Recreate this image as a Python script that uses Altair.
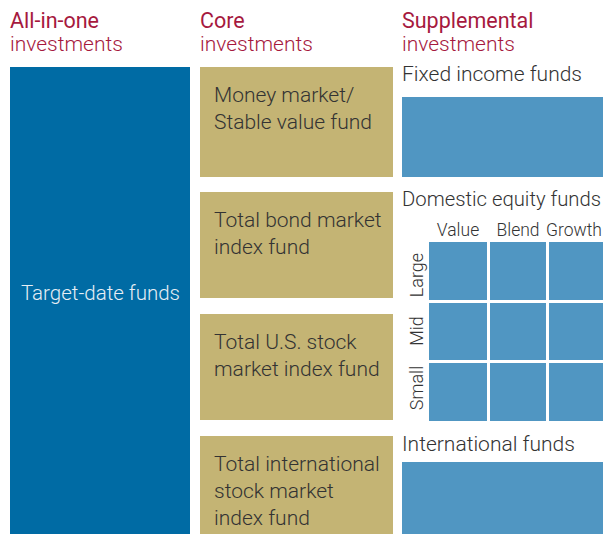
import altair as alt
import pandas as pd

# ---------------- content ----------------
columns = ["All-in-one", "Core", "Supplemental"]
column_subtitles = ["investments", "investments", "investments"]
all_in_one_funds = ["Target-date funds"]
core_funds = [
    ["Money market/", "Stable value fund"],
    ["Total bond market", "index fund"],
    ["Total U.S. stock", "market index fund"],
    ["Total international", "stock market", "index fund"],
]
supplemental_groups = ["Fixed income funds", "Domestic equity funds", "International funds"]
style_labels = ["Value", "Blend", "Growth"]
size_labels = ["Large", "Mid", "Small"]

# ---------------- layout (page pixels) ----------------
W, H, M = 611, 542, 8
CW, CH = W - 2 * M, H - 2 * M  # chart fits inside the page margins
RIGHT = M + CW
col_x = [10, 200, 402]
header_base = [28, 51]
aio_box = (10, 190, 67, 542)
aio_text = (21, 300)
core_x = (200, 393)
core_tops = [67, 192, 314, 436]
core_bottoms = [177, 298, 420, 542]
core_text_x = 214
core_first = 35
core_line = 27
supp_x = (402, RIGHT)
supp_boxes_y = {0: (97, 177), 2: (462, 542)}
supp_label_base = [81, 206, 451]
supp_label_size = [21, 20.3, 21]
grid_cols = [(429, 487), (490, 546), (549, RIGHT)]
grid_rows = [(242, 300), (303, 360), (363, 421)]
style_label_x = [458, 518, 574]
style_label_base = 236
size_label_x = 423
size_label_y = [275, 331, 388]

DARK_BLUE = "#006ba4"
GOLD = "#c4b474"
LIGHT_BLUE = "#5096c2"
CRIMSON = "#a6193e"
TEXT = "#333333"
LIGHT_TEXT = "#e6eef5"
FONT = "Roboto"

# ---------------- tables ----------------
rects = [dict(x=aio_box[0], x2=aio_box[1], y=aio_box[2], y2=aio_box[3], fill=DARK_BLUE)]
for t, b in zip(core_tops, core_bottoms):
    rects.append(dict(x=core_x[0], x2=core_x[1], y=t, y2=b, fill=GOLD))
for i, (t, b) in supp_boxes_y.items():
    rects.append(dict(x=supp_x[0], x2=supp_x[1], y=t, y2=b, fill=LIGHT_BLUE))
for (r0, r1) in grid_rows:
    for (c0, c1) in grid_cols:
        rects.append(dict(x=c0, x2=c1, y=r0, y2=r1, fill=LIGHT_BLUE))
rect_df = pd.DataFrame(rects)

head_df = pd.DataFrame([dict(x=x, y=header_base[0], text=t) for x, t in zip(col_x, columns)])
sub_df = pd.DataFrame([dict(x=x, y=header_base[1], text=t) for x, t in zip(col_x, column_subtitles)])

body = []
for fund, top in zip(core_funds, core_tops):
    for k, line in enumerate(fund):
        body.append(dict(x=core_text_x, y=top + core_first + k * core_line, text=line, size=21))
for g, base, fs in zip(supplemental_groups, supp_label_base, supp_label_size):
    body.append(dict(x=supp_x[0], y=base, text=g, size=fs))
body_df = pd.DataFrame(body)

aio_df = pd.DataFrame([dict(x=aio_text[0], y=aio_text[1], text=all_in_one_funds[0])])
style_df = pd.DataFrame([dict(x=x, y=style_label_base, text=t) for x, t in zip(style_label_x, style_labels)])
size_df = pd.DataFrame([dict(x=size_label_x, y=y, text=t) for y, t in zip(size_label_y, size_labels)])

# ---------------- chart ----------------
xs = alt.Scale(domain=[M, M + CW], nice=False, zero=False)
ys = alt.Scale(domain=[M, M + CH], nice=False, zero=False, reverse=True)

rect_layer = alt.Chart(rect_df).mark_rect().encode(
    x=alt.X("x:Q", scale=xs, axis=None),
    x2="x2:Q",
    y=alt.Y("y:Q", scale=ys, axis=None),
    y2="y2:Q",
    color=alt.Color("fill:N", scale=None),
)


def text_layer(df, sized=False, **kw):
    enc = dict(
        x=alt.X("x:Q", scale=xs, axis=None),
        y=alt.Y("y:Q", scale=ys, axis=None),
        text="text:N",
    )
    if sized:
        enc["size"] = alt.Size("size:Q", scale=None)
    return alt.Chart(df).mark_text(font=FONT, baseline="alphabetic", **kw).encode(**enc)


layers = [
    rect_layer,
    text_layer(head_df, align="left", fontSize=21.5, fontWeight=400, color=CRIMSON),
    text_layer(sub_df, align="left", fontSize=21, fontWeight=300, color=CRIMSON),
    text_layer(body_df, sized=True, align="left", fontWeight=300, color=TEXT),
    text_layer(aio_df, align="left", fontSize=20.5, fontWeight=300, color=LIGHT_TEXT),
    text_layer(style_df, align="center", fontSize=17.5, fontWeight=300, color=TEXT),
    text_layer(size_df, align="center", fontSize=18, fontWeight=300, color=TEXT, angle=270),
]

chart = alt.layer(*layers).properties(
    width=CW, height=CH, padding=0, autosize="none"
).configure_view(stroke=None)

chart.save("out.html", embed_options={"renderer": "svg", "actions": False})
